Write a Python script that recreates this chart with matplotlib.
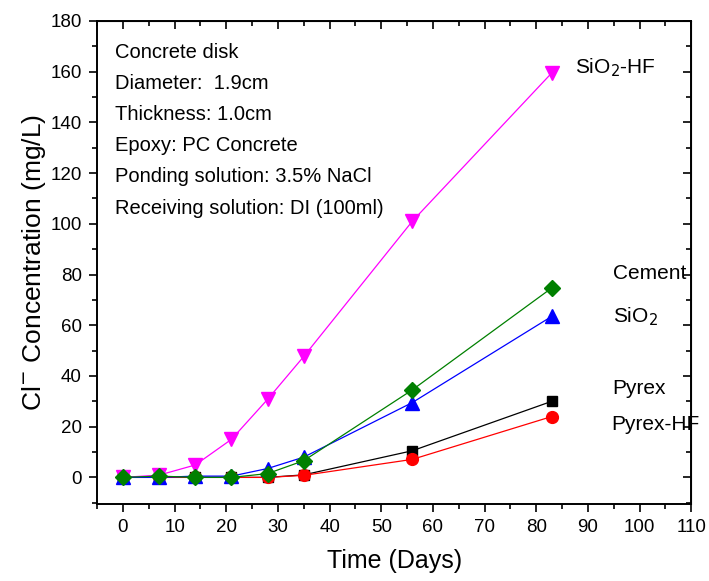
import matplotlib.pyplot as plt

plt.rcParams['font.family'] = ['Liberation Sans', 'DejaVu Sans']

# sampling days
days = [0, 7, 14, 21, 28, 35, 56, 83]

# Cl- concentration (mg/L)
pyrex = [0, 0, 0, 0, 0, 1, 10.5, 30]
pyrex_hf = [0, 0, 0, 0, 0, 0.8, 7.1, 24]
sio2_hf = [0, 0.9, 4.9, 15, 30.8, 47.7, 101, 159.5]
sio2 = [0, 0, 0.5, 0.5, 3.5, 8, 29.5, 63.5]
cement = [0, 0.5, 0, 0, 1.5, 6.6, 34.5, 74.7]

info_lines = [
    "Concrete disk",
    "Diameter:  1.9cm",
    "Thickness: 1.0cm",
    "Epoxy: PC Concrete",
    "Ponding solution: 3.5% NaCl",
    "Receiving solution: DI (100ml)",
]

fig = plt.figure(figsize=(7.09, 5.81), dpi=100)
ax = fig.add_axes([0.137, 0.1325, 0.838, 0.8315])

# draw order: green ends up on top near zero
ax.plot(days, pyrex, '-s', color='black', lw=0.9, ms=7.5)
ax.plot(days, pyrex_hf, '-o', color='#ff0000', lw=0.9, ms=8.5)
ax.plot(days, sio2_hf, '-v', color='#ff00ff', lw=0.9, ms=10)
ax.plot(days, sio2, '-^', color='#0000ff', lw=0.9, ms=10)
ax.plot(days, cement, '-D', color='#008000', lw=0.9, ms=8)

ax.set_xlim(-5, 110)
ax.set_ylim(-10.5, 180)
ax.set_xticks(range(0, 111, 10))
ax.set_xticks(range(-5, 111, 10), minor=True)
ax.set_yticks(range(0, 181, 20))
ax.set_yticks(range(-10, 181, 20), minor=True)
ax.tick_params(which='major', direction='out', length=6, width=1.2, labelsize=13.5, pad=5)
ax.tick_params(which='minor', direction='out', length=3.5, width=1.2)
for s in ax.spines.values():
    s.set_linewidth(1.4)

# mirrored ticks on top/right, pointing in, no labels
top = ax.secondary_xaxis('top')
top.set_xticks(range(0, 111, 10))
top.set_xticks(range(-5, 111, 10), minor=True)
top.tick_params(which='major', direction='in', length=6, width=1.2, labeltop=False)
top.tick_params(which='minor', direction='in', length=3.5, width=1.2)
right = ax.secondary_yaxis('right')
right.set_yticks(range(0, 181, 20))
right.set_yticks(range(-10, 181, 20), minor=True)
right.tick_params(which='major', direction='in', length=6, width=1.2, labelright=False)
right.tick_params(which='minor', direction='in', length=3.5, width=1.2)

ax.set_xlabel('Time (Days)', fontsize=18, labelpad=9)
ax.set_ylabel('Cl$^{-}$ Concentration (mg/L)', fontsize=19, labelpad=2)

for i, line in enumerate(info_lines):
    ax.text(0.03, 0.935 - i * 0.0645, line, transform=ax.transAxes,
            fontsize=14.5, va='center', ha='left')

ax.text(87.5, 161.5, 'SiO$_2$-HF', fontsize=15, va='center')
ax.text(94.8, 80.5, 'Cement', fontsize=15, va='center')
ax.text(94.8, 63.5, 'SiO$_2$', fontsize=15, va='center')
ax.text(94.8, 35, 'Pyrex', fontsize=15, va='center')
ax.text(94.6, 21, 'Pyrex-HF', fontsize=15, va='center')

fig.savefig('out.png', dpi=100)
